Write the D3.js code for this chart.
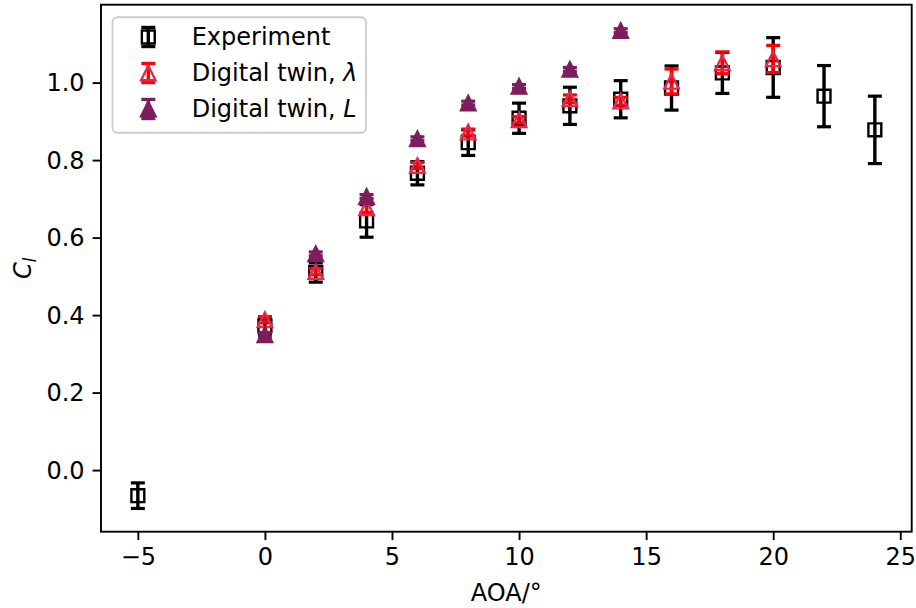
<!DOCTYPE html>
<html>
<head>
<meta charset="utf-8">
<script src="https://cdn.jsdelivr.net/npm/d3@7"></script>
<style>
  html, body { margin: 0; padding: 0; background: #fff; }
  svg { display: block; font-family: "DejaVu Sans", sans-serif; }
</style>
</head>
<body>
<svg id="chart" width="916" height="608"></svg>
<script>
// ---- data ----
const aoaExp = [-5, 0, 2, 4, 6, 8, 10, 12, 14, 16, 18, 20, 22, 24];
const clExp  = [-0.066, 0.372, 0.510, 0.643, 0.766, 0.845, 0.908, 0.940, 0.957, 0.986, 1.025, 1.039, 0.965, 0.878];
const errExp = [0.033, 0.022, 0.025, 0.042, 0.030, 0.033, 0.039, 0.048, 0.048, 0.057, 0.053, 0.077, 0.079, 0.087];

const aoaLam = [0, 2, 4, 6, 8, 10, 12, 14, 16, 18, 20];
const clLam  = [0.388, 0.512, 0.677, 0.786, 0.872, 0.904, 0.958, 0.952, 1.003, 1.051, 1.061];
const errLam = [0.008, 0.008, 0.012, 0.008, 0.008, 0.008, 0.010, 0.010, 0.032, 0.028, 0.035];

const aoaL = [0, 2, 4, 6, 8, 10, 12, 14];
const clL  = [0.349, 0.558, 0.706, 0.855, 0.947, 0.990, 1.034, 1.134];
const errL = [0.005, 0.005, 0.005, 0.005, 0.005, 0.005, 0.005, 0.005];

const xTicks = [-5, 0, 5, 10, 15, 20, 25];
const yTicks = [0.0, 0.2, 0.4, 0.6, 0.8, 1.0];
const seriesNames = ["Experiment", "Digital twin, ", "Digital twin, "];
const seriesSymbols = ["", "λ", "L"];
const xLabel = "AOA/°";

// ---- layout ----
const pL = 101, pR = 911.7, pT = 4.7, pB = 531.7;
const FS = 24;

const x = d3.scaleLinear().domain([-6.45, 25.45]).range([pL, pR]);
const y = d3.scaleLinear().domain([-0.159, 1.201]).range([pB, pT]);

const svg = d3.select("#chart");

const colExp = "#000000";
const colLamBar = "#ff0000";
const colLamMk = "#e6284f";
const colL = "#7e1d5d";

const mk = 14.4;       // marker size
const capW = 14;       // cap width
const barW = 3.4;

function squarePath(s) {
  return `M${-s/2},${-s/2}H${s/2}V${s/2}H${-s/2}Z`;
}
function triPath(s) {
  return `M0,${-s/2}L${s/2},${s/2}L${-s/2},${s/2}Z`;
}

const plot = svg.append("g").attr("class", "plot");

function drawSeries(xs, ys, es, barColor, markerFn) {
  const data = xs.map((d, i) => ({ a: d, c: ys[i], e: es[i] }));
  const g = plot.append("g");
  g.selectAll("line.bar").data(data).join("line")
    .attr("x1", d => x(d.a)).attr("x2", d => x(d.a))
    .attr("y1", d => y(d.c - d.e)).attr("y2", d => y(d.c + d.e))
    .attr("stroke", barColor).attr("stroke-width", barW);
  g.selectAll("line.capT").data(data).join("line")
    .attr("x1", d => x(d.a) - capW/2).attr("x2", d => x(d.a) + capW/2)
    .attr("y1", d => y(d.c + d.e)).attr("y2", d => y(d.c + d.e))
    .attr("stroke", barColor).attr("stroke-width", 3.2);
  g.selectAll("line.capB").data(data).join("line")
    .attr("x1", d => x(d.a) - capW/2).attr("x2", d => x(d.a) + capW/2)
    .attr("y1", d => y(d.c - d.e)).attr("y2", d => y(d.c - d.e))
    .attr("stroke", barColor).attr("stroke-width", 3.2);
  g.selectAll("path.mk").data(data).join("path")
    .attr("transform", d => `translate(${x(d.a)},${y(d.c)})`)
    .each(function () { markerFn(d3.select(this)); });
}

const mkExp = s => s.attr("d", squarePath(mk - 1.5)).attr("fill", "none").attr("stroke", colExp).attr("stroke-width", 2.4);
const mkLam = s => s.attr("d", triPath(mk)).attr("fill", "none").attr("stroke", colLamMk).attr("stroke-width", 2.4).attr("stroke-linejoin", "miter");
const mkL   = s => s.attr("d", triPath(mk)).attr("fill", colL).attr("stroke", colL).attr("stroke-width", 2.4).attr("stroke-linejoin", "miter");

drawSeries(aoaExp, clExp, errExp, colExp, mkExp);
drawSeries(aoaLam, clLam, errLam, colLamBar, mkLam);
drawSeries(aoaL, clL, errL, colL, mkL);

// ---- axes ----
const xAxis = d3.axisBottom(x).tickValues(xTicks).tickSizeInner(8.4).tickSizeOuter(0).tickPadding(8)
  .tickFormat(d => d < 0 ? "\u2212" + Math.abs(d) : String(d));
const yAxis = d3.axisLeft(y).tickValues(yTicks).tickSizeInner(8.4).tickSizeOuter(0).tickPadding(8)
  .tickFormat(d3.format(".1f"));

const gx = svg.append("g").attr("transform", `translate(0,${pB})`).call(xAxis);
const gy = svg.append("g").attr("transform", `translate(${pL},0)`).call(yAxis);
[gx, gy].forEach(g => {
  g.select(".domain").remove();
  g.selectAll(".tick line").attr("stroke", "#000").attr("stroke-width", 1.9);
  g.selectAll(".tick text").attr("fill", "#000").attr("font-size", FS).attr("font-family", "DejaVu Sans");
});
gy.selectAll(".tick text").attr("dy", "0.35em");

svg.append("rect").attr("x", pL).attr("y", pT)
  .attr("width", pR - pL).attr("height", pB - pT)
  .attr("fill", "none").attr("stroke", "#000").attr("stroke-width", 1.9);

svg.append("text").attr("x", (pL + pR) / 2).attr("y", 601)
  .attr("text-anchor", "middle").attr("font-size", FS).attr("fill", "#000").text(xLabel);

const yl = svg.append("text")
  .attr("transform", `translate(31,${(pT + pB) / 2}) rotate(-90)`)
  .attr("text-anchor", "middle").attr("font-size", FS).attr("fill", "#000");
yl.append("tspan").attr("font-style", "italic").text("C");
yl.append("tspan").attr("font-style", "italic").attr("font-size", FS * 0.7).attr("dy", 5).text("l");

// ---- legend ----
const lg = svg.append("g");
lg.append("rect").attr("x", 112.5).attr("y", 17.3).attr("width", 253.5).attr("height", 115.4)
  .attr("rx", 5).attr("ry", 5)
  .attr("fill", "#fff").attr("fill-opacity", 0.8)
  .attr("stroke", "#cccccc").attr("stroke-width", 1.9);

const legRows = [
  { y: 37, bar: colExp, fn: mkExp },
  { y: 73, bar: colLamBar, fn: mkLam },
  { y: 109, bar: colL, fn: mkL }
];
const hx = 148.3;
legRows.forEach((r, i) => {
  const h = 9.6;
  lg.append("line").attr("x1", hx).attr("x2", hx).attr("y1", r.y - h).attr("y2", r.y + h)
    .attr("stroke", r.bar).attr("stroke-width", barW);
  [r.y - h, r.y + h].forEach(yy => lg.append("line")
    .attr("x1", hx - capW/2).attr("x2", hx + capW/2).attr("y1", yy).attr("y2", yy)
    .attr("stroke", r.bar).attr("stroke-width", 3.2));
  const p = lg.append("path").attr("transform", `translate(${hx},${r.y})`);
  r.fn(p);
  const t = lg.append("text").attr("x", 191.7).attr("y", r.y).attr("dy", "0.35em")
    .attr("font-size", FS).attr("fill", "#000");
  t.append("tspan").text(seriesNames[i]);
  if (seriesSymbols[i]) t.append("tspan").attr("font-style", "italic").text(seriesSymbols[i]);
});
</script>
</body>
</html>
